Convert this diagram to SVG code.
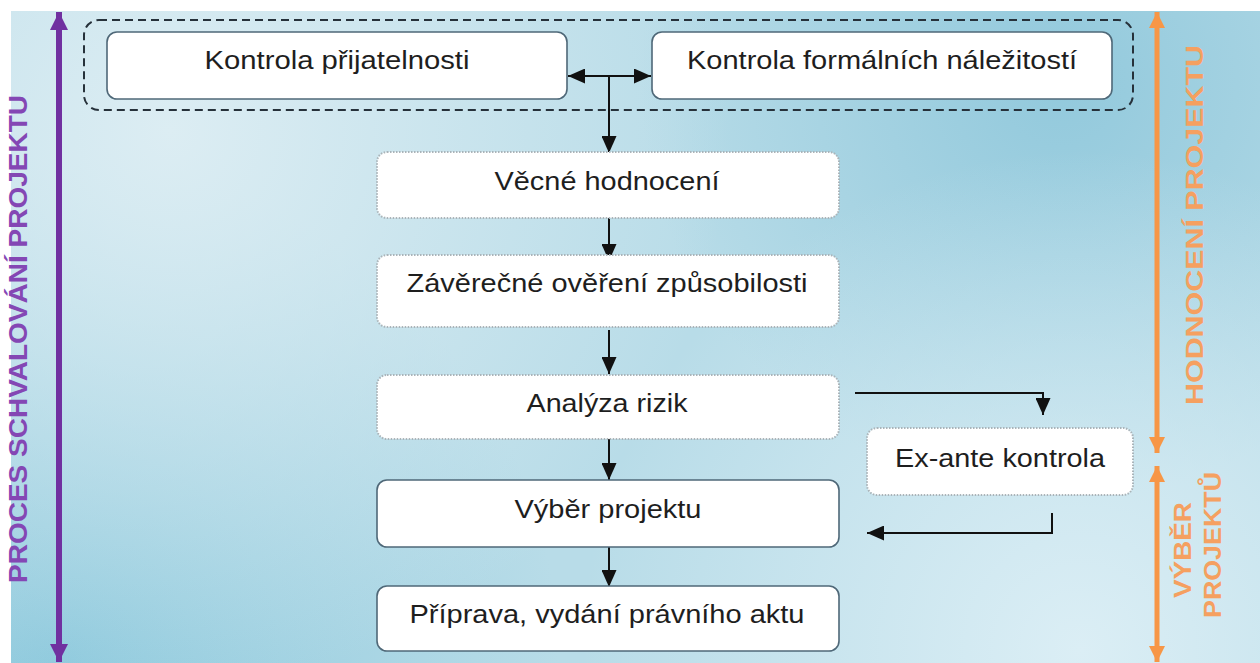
<svg xmlns="http://www.w3.org/2000/svg" width="1260" height="663" viewBox="0 0 1260 663">
<defs>
<radialGradient id="lt1" cx="170" cy="130" r="560" gradientUnits="userSpaceOnUse"><stop offset="0" stop-color="#dcedf3"/><stop offset="1" stop-color="#dcedf3" stop-opacity="0"/></radialGradient>
<radialGradient id="lt2" cx="1080" cy="650" r="500" gradientUnits="userSpaceOnUse"><stop offset="0" stop-color="#dbeef5"/><stop offset="1" stop-color="#dbeef5" stop-opacity="0"/></radialGradient>
<radialGradient id="dk1" cx="1060" cy="80" r="420" gradientUnits="userSpaceOnUse"><stop offset="0" stop-color="#92c9dc"/><stop offset="1" stop-color="#92c9dc" stop-opacity="0"/></radialGradient>
<radialGradient id="dk2" cx="60" cy="660" r="500" gradientUnits="userSpaceOnUse"><stop offset="0" stop-color="#8fcadd"/><stop offset="1" stop-color="#8fcadd" stop-opacity="0"/></radialGradient>
<marker id="ahb" viewBox="0 0 10 10" refX="10" refY="5" markerWidth="17" markerHeight="15" orient="auto-start-reverse" markerUnits="userSpaceOnUse" preserveAspectRatio="none">
<path d="M0,0 L10,5 L0,10 z" fill="#111"/>
</marker>
<marker id="pur" viewBox="0 0 10 10" refX="10" refY="5" markerWidth="18" markerHeight="18" orient="auto-start-reverse" markerUnits="userSpaceOnUse">
<path d="M0,0 L10,5 L0,10 z" fill="#7030a0"/>
</marker>
<marker id="org" viewBox="0 0 10 10" refX="10" refY="5" markerWidth="16" markerHeight="16" orient="auto-start-reverse" markerUnits="userSpaceOnUse">
<path d="M0,0 L10,5 L0,10 z" fill="#f79646"/>
</marker>
<style>
.solid{fill:#fff;stroke:#4f6878;stroke-width:1.6}
.dot{fill:#fff;stroke:#aab4b9;stroke-width:2;stroke-dasharray:1.5 1.5}
.t{font-family:"Liberation Sans",Arial,sans-serif;font-size:25px;fill:#1e1e1e;text-anchor:middle}
.c{fill:none;stroke:#111;stroke-width:2}
.side{font-family:"Liberation Sans",Arial,sans-serif;font-weight:bold;text-anchor:middle}
</style>
</defs>
<rect width="1260" height="663" fill="#fff"/>
<rect x="11" y="11" width="1249" height="652" fill="#b8dce8"/>
<rect x="11" y="11" width="1249" height="652" fill="url(#dk1)"/>
<rect x="11" y="11" width="1249" height="652" fill="url(#dk2)"/>
<rect x="11" y="11" width="1249" height="652" fill="url(#lt1)"/>
<rect x="11" y="11" width="1249" height="652" fill="url(#lt2)"/>

<g id="side-left">
<line x1="59" y1="12" x2="59" y2="662" stroke="#7030a0" stroke-width="6" marker-start="url(#pur)" marker-end="url(#pur)"/>
<text class="side" transform="translate(27,339) rotate(-90)" font-size="25" fill="#8447b4" textLength="488" lengthAdjust="spacingAndGlyphs">PROCES SCHVALOVÁNÍ PROJEKTU</text>
</g>
<g id="side-right">
<line x1="1157" y1="12" x2="1157" y2="453" stroke="#f79646" stroke-width="5" marker-start="url(#org)" marker-end="url(#org)"/>
<line x1="1157" y1="466" x2="1157" y2="662" stroke="#f79646" stroke-width="5" marker-start="url(#org)" marker-end="url(#org)"/>
<text class="side" transform="translate(1203,225) rotate(-90)" font-size="23" fill="#f5a060" textLength="360" lengthAdjust="spacingAndGlyphs">HODNOCENÍ PROJEKTU</text>
<text class="side" transform="translate(1191,550) rotate(-90)" font-size="23" fill="#f5a060" textLength="96" lengthAdjust="spacingAndGlyphs">VÝBĚR</text>
<text class="side" transform="translate(1221,545) rotate(-90)" font-size="23" fill="#f5a060" textLength="146" lengthAdjust="spacingAndGlyphs">PROJEKTŮ</text>
</g>

<g id="group-top">
<rect x="84" y="20" width="1049" height="90" rx="15" fill="none" stroke="#26313a" stroke-width="2" stroke-dasharray="8 5"/>
</g>

<g id="connectors">
<line class="c" x1="568" y1="76" x2="651" y2="76" marker-start="url(#ahb)" marker-end="url(#ahb)"/>
<line class="c" x1="609" y1="76" x2="609" y2="153" marker-end="url(#ahb)"/>
<line class="c" x1="609" y1="218" x2="609" y2="261" marker-end="url(#ahb)"/>
<line class="c" x1="609" y1="330" x2="609" y2="374" marker-end="url(#ahb)"/>
<line class="c" x1="609" y1="439" x2="609" y2="480" marker-end="url(#ahb)"/>
<line class="c" x1="609" y1="547" x2="609" y2="587" marker-end="url(#ahb)"/>
<polyline class="c" points="855,393 1043,393 1043,415" marker-end="url(#ahb)"/>
<polyline class="c" points="1052,513 1052,533 867,533" marker-end="url(#ahb)"/>
</g>

<g id="n-prijatelnost">
<rect class="solid" x="107" y="32" width="460" height="67" rx="10"/>
<text class="t" x="337" y="69" textLength="265" lengthAdjust="spacingAndGlyphs">Kontrola přijatelnosti</text>
</g>
<g id="n-formalni">
<rect class="solid" x="652" y="32" width="460" height="67" rx="10"/>
<text class="t" x="882" y="69" textLength="390" lengthAdjust="spacingAndGlyphs">Kontrola formálních náležitostí</text>
</g>
<g id="n-vecne">
<rect class="dot" x="377" y="152" width="462" height="66" rx="10"/>
<text class="t" x="607" y="190" textLength="225" lengthAdjust="spacingAndGlyphs">Věcné hodnocení</text>
</g>
<g id="n-zaverecne">
<rect class="dot" x="377" y="255" width="462" height="72" rx="10"/>
<text class="t" x="607" y="292" textLength="401" lengthAdjust="spacingAndGlyphs">Závěrečné ověření způsobilosti</text>
</g>
<g id="n-analyza">
<rect class="dot" x="377" y="375" width="462" height="64" rx="10"/>
<text class="t" x="607" y="412" textLength="161" lengthAdjust="spacingAndGlyphs">Analýza rizik</text>
</g>
<g id="n-exante">
<rect class="dot" x="867" y="428" width="266" height="67" rx="10"/>
<text class="t" x="1000" y="467" textLength="210" lengthAdjust="spacingAndGlyphs">Ex-ante kontrola</text>
</g>
<g id="n-vyber">
<rect class="solid" x="377" y="480" width="462" height="67" rx="10"/>
<text class="t" x="608" y="518" textLength="187" lengthAdjust="spacingAndGlyphs">Výběr projektu</text>
</g>
<g id="n-priprava">
<rect class="solid" x="377" y="586" width="462" height="65" rx="10"/>
<text class="t" x="607" y="623" textLength="395" lengthAdjust="spacingAndGlyphs">Příprava, vydání právního aktu</text>
</g>
</svg>
